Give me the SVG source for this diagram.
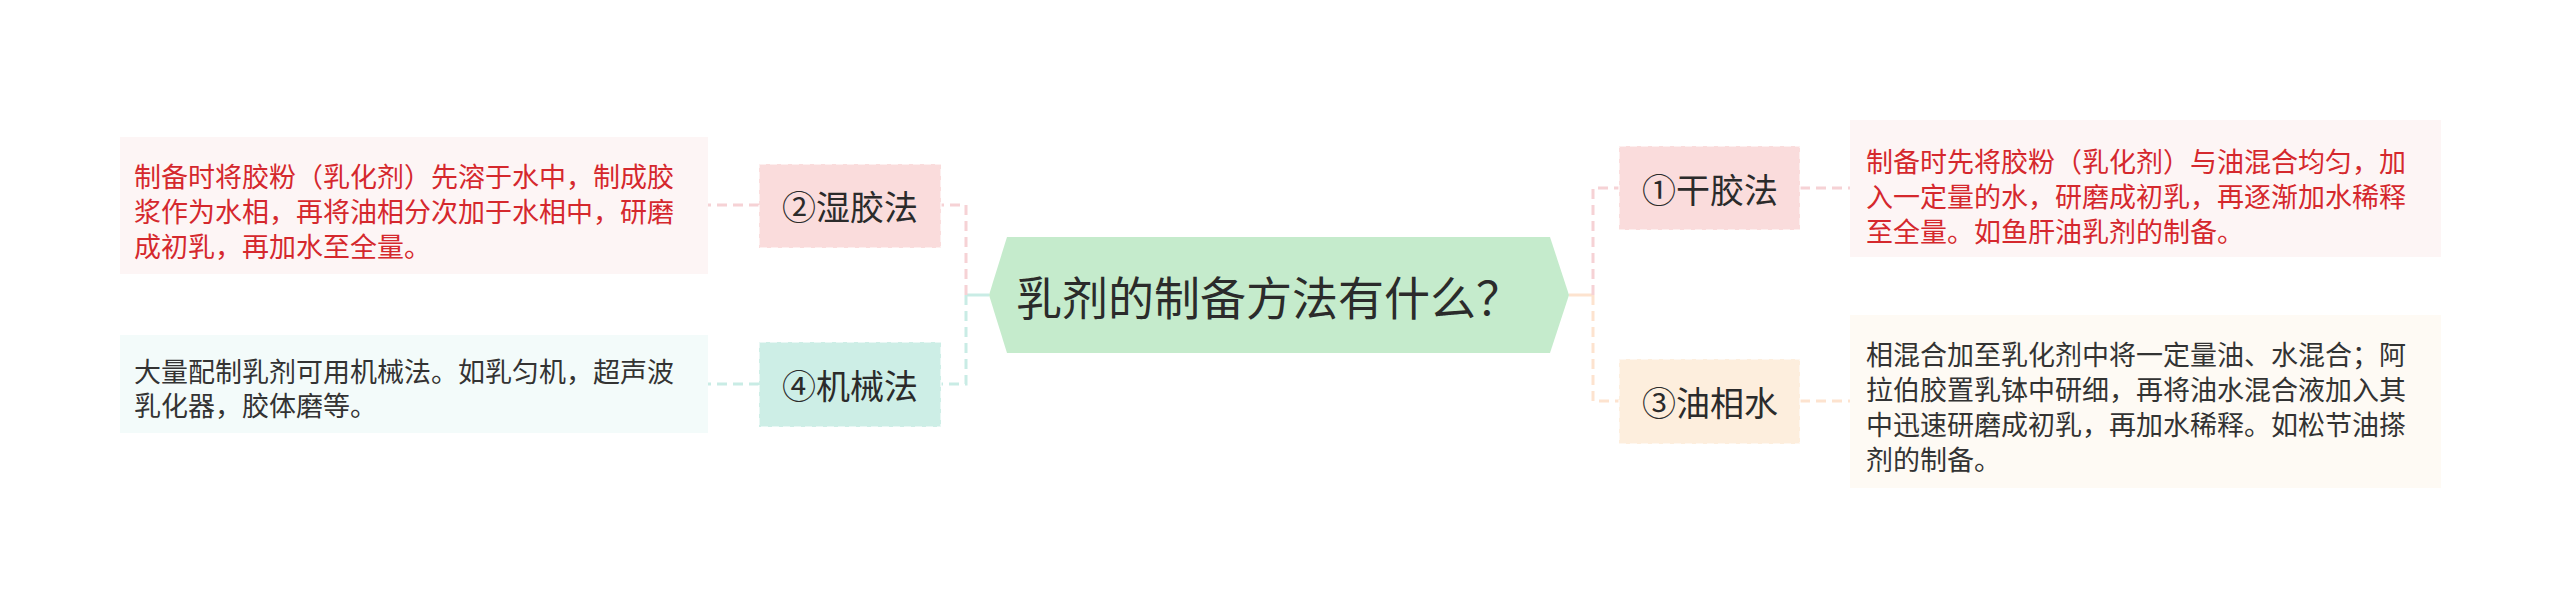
<svg xmlns="http://www.w3.org/2000/svg" width="2560" height="608" viewBox="0 0 2560 608">
<style>
text{font-family:"Noto Sans CJK SC","Noto Sans",sans-serif;dominant-baseline:central}
.main{font-size:46px;fill:#2b2b2b}
.lbl{font-size:34px;fill:#2b2b2b;text-anchor:middle}
.red{font-size:27px;fill:#d5282d}
.dark{font-size:27px;fill:#333333}
.box{stroke:#ffffff;stroke-opacity:0.55;stroke-width:2;stroke-dasharray:7 4}
.dash{fill:none;stroke-width:3;stroke-dasharray:10 6}
.pk{stroke:#f6d2d5}.mt{stroke:#c9ece5}.pc{stroke:#fde3cf}
</style>
<rect width="2560" height="608" fill="#ffffff"/>
<g id="connectors">
<line x1="989" y1="295" x2="966" y2="295" stroke="#c9ece5" stroke-width="3"/>
<path class="dash pk" d="M966 295 V205 H941"/>
<path class="dash mt" d="M966 295 V384 H941"/>
<path class="dash pk" d="M759 205 H708"/>
<path class="dash mt" d="M759 384 H708"/>
<line x1="1569" y1="295" x2="1593" y2="295" stroke="#fde3cf" stroke-width="3"/>
<path class="dash pk" d="M1593 295 V188 H1619"/>
<path class="dash pc" d="M1593 295 V401 H1619"/>
<path class="dash pk" d="M1800 188 H1850"/>
<path class="dash pc" d="M1800 401 H1850"/>
</g>
<g id="root">
<polygon points="989,295 1007,237 1550,237 1569,295 1550,353 1007,353" fill="#c5ebcc"/>
<text class="main" x="1016" y="295">乳剂的制备方法有什么？</text>
</g>
<g id="n2">
<rect class="box" x="759" y="164" width="182" height="84" fill="#fadcdc"/>
<text class="lbl" x="850" y="205">②湿胶法</text>
</g>
<g id="n2t">
<rect x="120" y="137" width="588" height="137" fill="#fdf5f5"/>
<text class="red" x="134" y="175">制备时将胶粉（乳化剂）先溶于水中，制成胶</text>
<text class="red" x="134" y="210">浆作为水相，再将油相分次加于水相中，研磨</text>
<text class="red" x="134" y="245">成初乳，再加水至全量。</text>
</g>
<g id="n4">
<rect class="box" x="759" y="342" width="182" height="85" fill="#cdeee6"/>
<text class="lbl" x="850" y="384">④机械法</text>
</g>
<g id="n4t">
<rect x="120" y="335" width="588" height="98" fill="#f3fbfa"/>
<text class="dark" x="134" y="370">大量配制乳剂可用机械法。如乳匀机，超声波</text>
<text class="dark" x="134" y="404">乳化器，胶体磨等。</text>
</g>
<g id="n1">
<rect class="box" x="1619" y="146" width="181" height="84" fill="#fadcdc"/>
<text class="lbl" x="1710" y="188">①干胶法</text>
</g>
<g id="n1t">
<rect x="1850" y="120" width="591" height="137" fill="#fdf5f5"/>
<text class="red" x="1866" y="160">制备时先将胶粉（乳化剂）与油混合均匀，加</text>
<text class="red" x="1866" y="195">入一定量的水，研磨成初乳，再逐渐加水稀释</text>
<text class="red" x="1866" y="230">至全量。如鱼肝油乳剂的制备。</text>
</g>
<g id="n3">
<rect class="box" x="1619" y="359" width="181" height="85" fill="#fdeedd"/>
<text class="lbl" x="1710" y="401">③油相水</text>
</g>
<g id="n3t">
<rect x="1850" y="315" width="591" height="173" fill="#fefaf4"/>
<text class="dark" x="1866" y="353">相混合加至乳化剂中将一定量油、水混合；阿</text>
<text class="dark" x="1866" y="388">拉伯胶置乳钵中研细，再将油水混合液加入其</text>
<text class="dark" x="1866" y="423">中迅速研磨成初乳，再加水稀释。如松节油搽</text>
<text class="dark" x="1866" y="458">剂的制备。</text>
</g>
</svg>
